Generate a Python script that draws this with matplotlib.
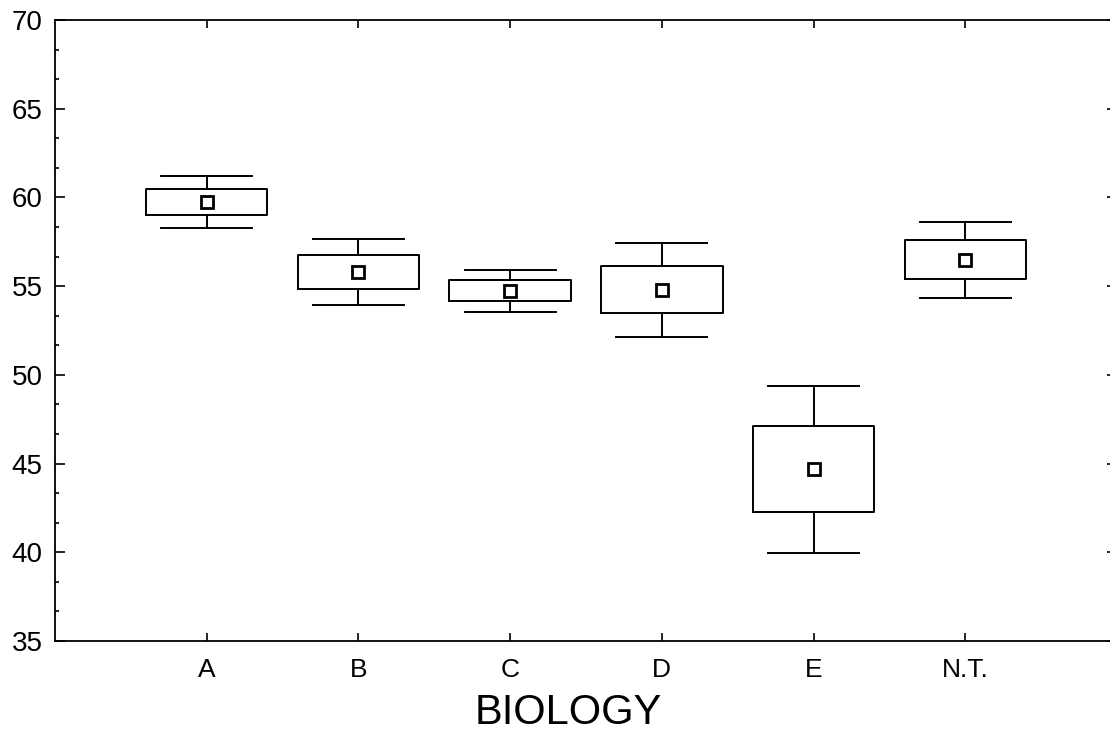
import matplotlib
matplotlib.use("Agg")
import matplotlib.pyplot as plt
from matplotlib.ticker import MultipleLocator, AutoMinorLocator

groups = ["A", "B", "C", "D", "E", "N.T."]
means = [59.74, 55.80, 54.73, 54.78, 44.69, 56.46]
box_lo = [59.00, 54.86, 54.16, 53.49, 42.29, 55.39]
box_hi = [60.47, 56.74, 55.35, 56.13, 47.12, 57.58]
whis_lo = [58.28, 53.92, 53.54, 52.13, 39.98, 54.33]
whis_hi = [61.21, 57.64, 55.91, 57.43, 49.39, 58.63]

plt.rcParams['font.family'] = ['Liberation Sans', 'DejaVu Sans']

W, H = 1110, 731
fig = plt.figure(figsize=(W / 100, H / 100), dpi=100)
left, right, top, bottom = 55, 1117, 20, 641
ax = fig.add_axes([left / W, 1 - bottom / H, (right - left) / W, (bottom - top) / H])

stats = []
for g, m, lo, hi, wl, wh in zip(groups, means, box_lo, box_hi, whis_lo, whis_hi):
    stats.append({'label': g, 'med': m, 'mean': m, 'q1': lo, 'q3': hi,
                  'whislo': wl, 'whishi': wh, 'fliers': []})

pos = list(range(1, len(groups) + 1))
ax.bxp(stats, positions=pos, widths=0.8, capwidths=0.6, showmeans=True,
       showfliers=False,
       boxprops=dict(color='black', linewidth=1.4),
       whiskerprops=dict(color='black', linewidth=1.4),
       capprops=dict(color='black', linewidth=1.4),
       medianprops=dict(linewidth=0, alpha=0),
       meanprops=dict(marker='s', markersize=9, markerfacecolor='white',
                      markeredgecolor='black', markeredgewidth=2.0))

ax.set_xlim(0, 7)
ax.set_ylim(35, 70)
ax.set_xticks(pos)
ax.set_xticklabels(groups)
ax.yaxis.set_major_locator(MultipleLocator(5))
ax.yaxis.set_minor_locator(AutoMinorLocator(3))

for s in ax.spines.values():
    s.set_linewidth(1.3)

ax.tick_params(axis='both', which='both', direction='in', top=True, right=True, width=1.2)
ax.tick_params(axis='y', which='major', length=7, labelsize=20, pad=9)
ax.tick_params(axis='y', which='minor', length=3)
ax.tick_params(axis='x', which='major', length=6, labelsize=19, pad=12)

ax.set_xlabel("BIOLOGY", fontsize=30, va='center')
ax.xaxis.set_label_coords((568 - left) / (right - left), -(713 - bottom) / (bottom - top))

fig.savefig("out.png", dpi=100)
